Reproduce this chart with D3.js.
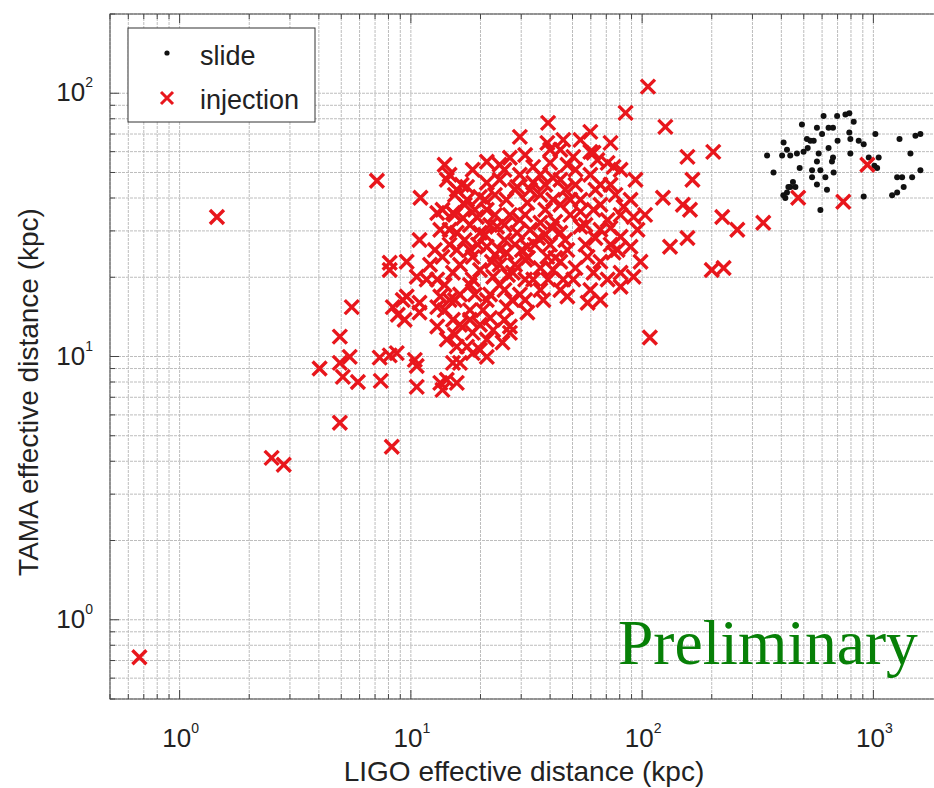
<!DOCTYPE html>
<html>
<head>
<meta charset="utf-8">
<script src="https://cdn.jsdelivr.net/npm/d3@7"></script>
<style>
  body { margin: 0; background: #fff; }
  text { font-family: "Liberation Sans", Arial, sans-serif; }
</style>
</head>
<body>
<div id="chart"></div>
<script>
var width = 934,
    height = 788;

// LIGO / TAMA effective distances (kpc)
var slideLigo = [491, 609, 697, 757, 787, 822, 570, 600, 640, 669, 787, 795, 864, 908, 1020, 1297, 1520, 1597,
    516, 534, 552, 409, 423, 347, 403, 437, 467, 499, 580, 669, 662, 795, 955, 1054, 570, 543, 590, 673,
    370, 543, 620, 570, 449, 437, 423, 416, 630, 908, 590, 1267, 1331, 1471, 1597, 1446, 1205, 1267, 1352,
    1010, 1038, 429, 460, 408, 520, 640, 700, 480];
var slideTama = [76, 82, 82, 83, 84, 78, 74, 70, 74, 74, 71, 67, 66, 64, 70, 67, 69, 70,
    67, 66, 66, 65, 61, 58, 58, 58, 59, 60, 59, 57, 55, 59, 57, 57, 55, 51, 51, 50,
    50, 48, 48, 45, 46, 44, 42, 40, 43, 40.5, 36, 48, 48, 48, 51, 59, 41, 42, 44,
    53, 52, 44, 44, 41, 62, 62, 66, 52];

var injLigo = [0.67, 1.45, 2.5, 2.82, 4.93, 8.27, 7.13, 11.0, 4.03, 4.93, 5.55, 4.93, 5.44, 5.08, 5.9, 7.33,
    8.1, 8.69, 7.41, 10.4, 10.6, 10.6, 13.4, 14.3, 15.8, 13.7, 16.3, 18.5, 15.2, 19.9, 8.1, 8.1, 9.59,
    8.35, 9.22, 8.78, 10.9, 10.9, 11.7, 13.7, 14.0, 13.4, 15.8, 19.9, 23.6, 28.8, 36.3, 44.3, 54.1, 66.0,
    80.7, 95.5, 13.7, 15.8, 18.5, 21.3, 25.9, 31.9, 38.9, 47.5, 58.1, 75.2, 89.1, 10.6, 13.0, 15.2, 18.5,
    22.7, 27.6, 33.8, 41.2, 50.4, 61.6, 70.9, 91.8, 9.4, 10.9, 13.0, 14.7, 18.0, 21.3, 25.9, 31.9, 37.4,
    47.5, 58.1, 66.0, 80.7, 13.0, 15.2, 18.5, 22.7, 26.8, 14.3, 17.5, 21.3, 24.9, 108, 15.8, 21.3,
    106, 84.8, 126, 39.2, 29.6, 59.7, 73.0, 45.6, 54.1, 59.7, 75.2, 64.1, 50.4, 40.0, 14.7, 16.6, 18.5,
    21.3, 26.8, 33.8, 38.9, 44.3, 61.6, 70.9, 47.5, 41.2, 33.8, 24.2, 21.3, 17.5, 14.3, 17.5, 21.3, 25.9,
    31.9, 41.2, 54.1, 61.6, 83.1, 91.8, 70.9, 28.8, 15.8, 19.9, 13.0, 15.2, 19.3, 103, 78.3, 80.7, 45.6,
    9.59, 13.4, 20.5, 26.8, 32.8, 29.6, 48.9, 38.1, 25.4, 17.1, 62.8, 51.5, 73.0, 38.1, 26.8, 22.0, 31.2,
    24.2, 44.3, 66.0, 16.3, 36.3, 29.6, 157, 203, 165, 123, 150, 161, 222, 258, 334, 157, 132, 200, 225,
    473, 741, 942, 89.1, 93.6, 98.4,
    15.5, 18.0, 20.9, 24.2, 28.2, 32.8, 40.0, 46.5, 56.9, 62.8, 73.0, 16.3, 19.9, 28.2, 36.3, 51.5, 59.7,
    44.3, 25.4, 18.9, 14.0, 12.1, 17.1, 23.1, 31.2, 42.1, 54.1, 66.0, 76.7, 59.7, 44.3, 36.3, 29.6, 25.4,
    23.1, 36.3, 46.5, 80.7, 73.0, 18.0, 22.0, 15.5, 31.2,
    18.9, 25.4, 44.3, 56.9, 34.4, 42.1, 23.1, 18.0, 14.7, 31.2, 24.2, 15.5, 66.0, 51.5, 40.0, 31.2, 24.2, 80.7,
    12.7, 14.7, 16.8, 19.5, 22.4, 26.3, 30.2, 35.5, 40.8, 18.0, 22.0, 27.4, 14.0, 16.3, 19.9, 28.2, 20.9,
    15.5, 38.1, 48.9, 32.1, 39.2, 25.4];
var injTama = [0.72, 33.9, 4.12, 3.88, 5.6, 4.54, 46.5, 40.1, 9.0, 11.9, 15.4, 9.46, 9.97, 8.37, 8.0, 9.9,
    10.1, 10.3, 8.08, 9.71, 9.2, 7.67, 7.94, 8.16, 7.94, 7.47, 9.46, 10.3, 9.46, 10.6, 22.7, 21.3, 22.9,
    15.4, 16.4, 14.4, 14.7, 27.7, 19.6, 36.1, 53.5, 30.3, 29.5, 29.5, 31.1, 29.5, 32.2, 29.5, 31.1, 30.3,
    28.5, 30.3, 23.9, 25.4, 23.9, 26.1, 24.8, 26.1, 23.9, 25.4, 23.9, 24.8, 26.1, 20.1, 19.6, 20.8, 19.6,
    20.1, 20.8, 19.6, 21.3, 19.6, 20.8, 19.6, 20.1, 13.8, 16.0, 15.4, 16.4, 15.0, 16.4, 15.4, 14.7, 16.4,
    16.9, 16.0, 16.4, 18.4, 13.0, 13.8, 12.3, 12.6, 12.3, 11.6, 10.9, 11.6, 11.3, 11.8, 10.9, 9.97,
    106, 84.2, 74.5, 77.2, 68.3, 71.3, 64.8, 66.5, 66.5, 59.9, 52.5, 55.8, 57.3, 54.4, 49.0, 44.9, 51.2,
    54.9, 56.9, 52.5, 64.8, 61.0, 59.4, 54.4, 53.5, 47.7, 45.7, 46.9, 45.7, 44.1, 46.9, 39.4, 36.1, 39.4,
    38.4, 39.4, 39.4, 36.1, 37.0, 33.9, 33.0, 44.1, 43.0, 40.4, 35.1, 35.1, 33.9, 34.5, 25.4, 20.8, 19.6,
    16.9, 16.9, 15.0, 13.0, 43.0, 33.0, 34.5, 29.0, 27.7, 27.7, 43.0, 44.9, 44.9, 36.1, 34.5, 31.6, 23.3,
    22.3, 22.9, 22.9, 17.2, 17.9, 17.2, 57.3, 59.9, 46.9, 40.1, 37.7, 36.1, 33.9, 30.3, 32.2, 28.2, 26.1, 21.3, 21.7,
    40.1, 38.7, 53.5, 39.4, 46.9, 22.9,
    34.5, 31.6, 29.0, 25.4, 26.6, 30.3, 26.6, 27.7, 26.6, 28.2, 26.6, 22.3, 21.3, 22.3, 21.7, 21.7, 17.9,
    17.9, 17.9, 17.2, 18.7, 22.3, 37.7, 34.5, 34.5, 32.5, 35.5, 37.7, 41.1, 49.0, 46.9, 49.0, 49.0, 51.2,
    41.1, 41.1, 43.0, 34.5, 30.8, 13.8, 14.0, 12.1, 16.4,
    36.1, 31.6, 37.7, 31.6, 26.6, 23.7, 24.3, 25.4, 26.6, 19.6, 18.7, 16.4, 44.9, 51.2, 61.0, 58.3, 53.5, 51.2,
    25.4, 30.3, 33.6, 26.6, 22.9, 20.4, 25.4, 28.2, 30.8, 18.7, 17.2, 16.4, 15.0, 13.2, 13.2, 43.0, 39.4,
    41.1, 44.9, 39.4, 23.7, 19.6, 13.8];

var xDomain = [0.5, 2000],
    yDomain = [0.5, 200];
var xMajor = [1, 10, 100, 1000],
    yMajor = [1, 10, 100];
var legendLabels = ["slide", "injection"];

var slide = slideLigo.map(function (d, i) { return {x: d, y: slideTama[i]}; });
var inj = injLigo.map(function (d, i) { return {x: d, y: injTama[i]}; });

// plot box (right edge runs past the window, as in the original)
var pL = 110, pR = 943, pT = 14, pB = 699;

var svg = d3.select("#chart").append("svg")
    .attr("width", width)
    .attr("height", height);

var x = d3.scaleLog().domain(xDomain).range([pL, pR]);
var y = d3.scaleLog().domain(yDomain).range([pB, pT]);

var xTicks = x.ticks(), yTicks = y.ticks();

// grid
svg.append("g").selectAll("line")
    .data(xTicks).enter().append("line")
    .attr("x1", function (d) { return x(d); })
    .attr("x2", function (d) { return x(d); })
    .attr("y1", pT).attr("y2", pB)
    .style("stroke", "#bdbdbd")
    .style("stroke-dasharray", "3,1");

svg.append("g").selectAll("line")
    .data(yTicks).enter().append("line")
    .attr("y1", function (d) { return y(d); })
    .attr("y2", function (d) { return y(d); })
    .attr("x1", pL).attr("x2", pR)
    .style("stroke", "#bdbdbd")
    .style("stroke-dasharray", "3,1");

// ticks (inside, both sides)
function isMajor(d) { return Math.abs(Math.log10(d) - Math.round(Math.log10(d))) < 1e-9; }

var tk = svg.append("g").style("stroke", "#444");
xTicks.forEach(function (d) {
    var l = isMajor(d) ? 9 : 5;
    tk.append("line").attr("x1", x(d)).attr("x2", x(d)).attr("y1", pB).attr("y2", pB - l);
    tk.append("line").attr("x1", x(d)).attr("x2", x(d)).attr("y1", pT).attr("y2", pT + l);
});
yTicks.forEach(function (d) {
    var l = isMajor(d) ? 9 : 5;
    tk.append("line").attr("y1", y(d)).attr("y2", y(d)).attr("x1", pL).attr("x2", pL + l);
    tk.append("line").attr("y1", y(d)).attr("y2", y(d)).attr("x1", pR).attr("x2", pR - l);
});

svg.append("rect")
    .attr("x", pL).attr("y", pT)
    .attr("width", pR - pL).attr("height", pB - pT)
    .style("fill", "none")
    .style("stroke", "#444");

// tick labels 10^n
var xl = svg.append("g").selectAll("text")
    .data(xMajor).enter().append("text")
    .attr("x", function (d) { return x(d) + 1; })
    .attr("y", 747)
    .attr("text-anchor", "middle")
    .style("font-size", "26px")
    .style("fill", "#222");
xl.append("tspan").text("10");
xl.append("tspan").attr("dy", -14).style("font-size", "14px")
    .text(function (d) { return Math.round(Math.log10(d)); });

var yl = svg.append("g").selectAll("text")
    .data(yMajor).enter().append("text")
    .attr("x", 93)
    .attr("y", function (d) { return y(d) + 8; })
    .attr("text-anchor", "end")
    .style("font-size", "26px")
    .style("fill", "#222");
yl.append("tspan").text("10");
yl.append("tspan").attr("dy", -14).style("font-size", "14px")
    .text(function (d) { return Math.round(Math.log10(d)); });

// axis titles
svg.append("text")
    .attr("x", 524).attr("y", 781)
    .attr("text-anchor", "middle")
    .style("font-size", "28px")
    .style("fill", "#222")
    .text("LIGO effective distance (kpc)");

svg.append("text")
    .attr("transform", "translate(38,392) rotate(-90)")
    .attr("text-anchor", "middle")
    .style("font-size", "28px")
    .style("fill", "#222")
    .text("TAMA effective distance (kpc)");

// data
var plot = svg.append("g");

function cross(s) {
    return "M" + (-s) + "," + (-s) + "L" + s + "," + s + "M" + (-s) + "," + s + "L" + s + "," + (-s);
}

plot.selectAll("circle")
    .data(slide).enter().append("circle")
    .attr("cx", function (d) { return x(d.x); })
    .attr("cy", function (d) { return y(d.y); })
    .attr("r", 3)
    .style("fill", "#111");

plot.selectAll("path.inj")
    .data(inj).enter().append("path")
    .attr("class", "inj")
    .attr("transform", function (d) { return "translate(" + x(d.x) + "," + y(d.y) + ")"; })
    .attr("d", cross(7))
    .style("stroke", "#e8161c")
    .style("stroke-width", 3.4)
    .style("fill", "none");

// legend
var legend = svg.append("g");
legend.append("rect")
    .attr("x", 128).attr("y", 28)
    .attr("width", 187).attr("height", 94)
    .style("fill", "#fff")
    .style("stroke", "#333");
legend.append("circle")
    .attr("cx", 167).attr("cy", 53).attr("r", 2.6)
    .style("fill", "#111");
legend.append("path")
    .attr("transform", "translate(167,98)")
    .attr("d", cross(6))
    .style("stroke", "#e8161c")
    .style("stroke-width", 3);
legend.selectAll("text.lab")
    .data(legendLabels).enter().append("text")
    .attr("class", "lab")
    .attr("x", 200)
    .attr("y", function (d, i) { return 65 + i * 44; })
    .style("font-size", "27px")
    .style("fill", "#222")
    .text(function (d) { return d; });

svg.append("text")
    .attr("x", 618).attr("y", 664)
    .style("font-family", "'Liberation Serif', 'Times New Roman', serif")
    .style("font-size", "63.5px")
    .style("fill", "#078007")
    .text("Preliminary");
</script>
</body>
</html>
